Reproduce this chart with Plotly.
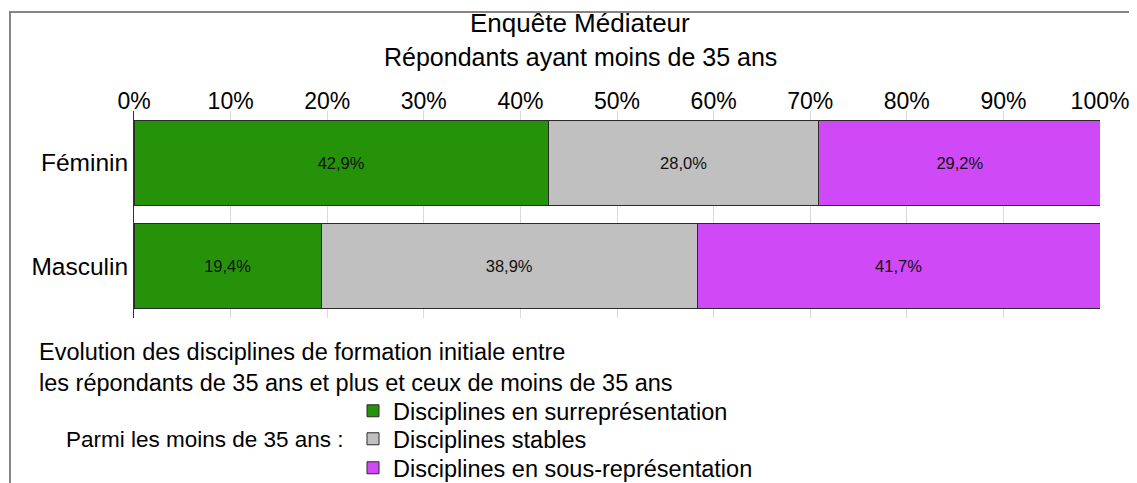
import plotly.graph_objects as go

categories = ["Féminin", "Masculin"]
series_names = ["Disciplines en surreprésentation", "Disciplines stables", "Disciplines en sous-représentation"]
surrep = [42.9, 19.4]
stables = [28.0, 38.9]
sousrep = [29.2, 41.7]
series_values = [surrep, stables, sousrep]
colors = ["#26920A", "#C0C0C0", "#CF49F7"]
tick_vals = [0, 10, 20, 30, 40, 50, 60, 70, 80, 90, 100]
tick_text = [f"{v}%" for v in tick_vals]

FONT = "Liberation Sans, Arial, sans-serif"
OFF = 8  # page body margin
W, H = 1137 - OFF, 483 - OFF
# plot area in reference page pixels: x 134..1100, y 111..318
PL, PR, PT, PB = 134, 1100, 111, 318
ML, MR, MT, MB = PL - OFF, W - (PR - OFF), PT - OFF, H - (PB - OFF)
PW, PH = PR - PL, PB - PT

def px_x(x):
    return (x - PL) / PW

def px_y(y):
    return (PB - y) / PH

legend_names = ["legend", "legend2", "legend3"]
legend_y = [411, 439, 468]

fig = go.Figure()
for name, vals, col, lg in zip(series_names, series_values, colors, legend_names):
    fig.add_trace(go.Bar(
        y=categories, x=vals, name=name, orientation="h",
        marker=dict(color=col, line=dict(color="#2a2a2a", width=1)),
        text=[f"{v:.1f}".replace(".", ",") + "%" for v in vals],
        textposition="inside", insidetextanchor="middle",
        textfont=dict(family=FONT, size=16.5, color="#111111"),
        hoverinfo="skip",
        legend=lg,
    ))

legend_common = dict(
    xanchor="left", yanchor="middle", orientation="v",
    font=dict(family=FONT, size=23.5, color="black"),
    bgcolor="rgba(0,0,0,0)", itemwidth=30, borderwidth=0,
)
legends = {}
for lg, ly in zip(legend_names, legend_y):
    legends[lg] = dict(x=px_x(353), y=px_y(ly), **legend_common)

fig.update_layout(
    width=W, height=H,
    margin=dict(l=ML, r=MR, t=MT, b=MB, autoexpand=False),
    barmode="stack", bargap=0.18,
    paper_bgcolor="white", plot_bgcolor="white",
    font=dict(family=FONT, color="black"),
    showlegend=True,
    xaxis=dict(
        range=[0, 100], side="top", tickmode="array", tickvals=tick_vals, ticktext=tick_text,
        showgrid=True, gridcolor="#d9d9d9", gridwidth=1, zeroline=False,
        showline=False, ticks="", ticklabelstandoff=-4,
        tickfont=dict(family=FONT, size=23, color="black"),
        fixedrange=True,
    ),
    yaxis=dict(
        categoryorder="array", categoryarray=categories, autorange="reversed",
        showline=True, linecolor="#333333", linewidth=1, ticks="",
        tickfont=dict(family=FONT, size=24.5, color="black"),
        showgrid=False, fixedrange=True,
    ),
    shapes=[dict(
        type="rect", xref="paper", yref="paper",
        x0=px_x(10), x1=px_x(1170), y0=px_y(530), y1=px_y(12),
        line=dict(color="#858585", width=2), fillcolor="rgba(0,0,0,0)", layer="below",
    )],
    annotations=[
        dict(text="Enquête Médiateur", xref="paper", yref="paper",
             x=px_x(580), y=px_y(23), xanchor="center", yanchor="middle",
             showarrow=False, font=dict(family=FONT, size=26, color="black")),
        dict(text="Répondants ayant moins de 35 ans", xref="paper", yref="paper",
             x=px_x(580), y=px_y(57), xanchor="center", yanchor="middle",
             showarrow=False, font=dict(family=FONT, size=25, color="black")),
        dict(text="Evolution des disciplines de formation initiale entre<br>"
                  "les répondants de 35 ans et plus et ceux de moins de 35 ans",
             xref="paper", yref="paper", align="left",
             x=px_x(37), y=px_y(367), xanchor="left", yanchor="middle",
             showarrow=False, font=dict(family=FONT, size=23.5, color="black")),
        dict(text="Parmi les moins de 35 ans :", xref="paper", yref="paper",
             x=px_x(64), y=px_y(439), xanchor="left", yanchor="middle",
             showarrow=False, font=dict(family=FONT, size=22.5, color="black")),
    ],
    **legends,
)

fig.write_html("out.html")
